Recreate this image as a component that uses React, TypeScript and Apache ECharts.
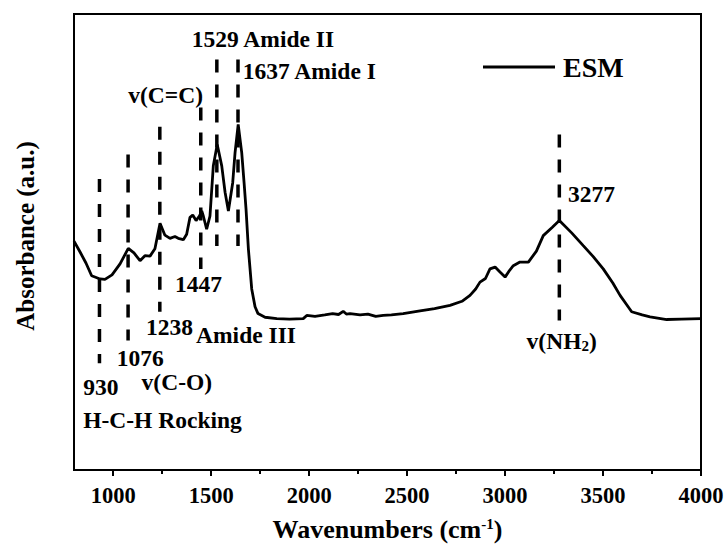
import React, { useEffect, useRef } from "react";
import * as echarts from "echarts";

// FTIR spectrum of ESM: [wavenumber (cm-1), absorbance (a.u.)]
const wavenumbers = [
  800, 831, 861, 890, 933, 958, 994, 1035, 1077, 1106, 1137, 1162, 1188, 1213, 1239,
  1264, 1290, 1315, 1332, 1358, 1375, 1392, 1406, 1423, 1440, 1452, 1460, 1477, 1494,
  1511, 1531, 1554, 1571, 1588, 1610, 1622, 1638, 1656, 1668, 1678, 1690, 1707, 1724,
  1739, 1775, 1835, 1900, 1970, 1988, 2030, 2080, 2120, 2150, 2174, 2190, 2209, 2260,
  2300, 2340, 2378, 2420, 2480, 2566, 2640, 2719, 2780, 2821, 2850, 2872, 2900, 2923,
  2949, 2974, 3000, 3020, 3042, 3076, 3119, 3160, 3195, 3240, 3277, 3340, 3399, 3450,
  3501, 3550, 3587, 3620, 3646, 3700, 3740, 3825, 3900, 4000,
];
const absorbance = [
  50.2, 47.8, 45.4, 42.6, 41.9, 41.8, 42.8, 45.2, 48.6, 47.6, 45.9, 47.0, 46.9, 48.5, 54.1,
  51.5, 50.8, 51.2, 50.8, 50.5, 51.7, 55.4, 55.9, 54.7, 55.7, 56.8, 55.7, 52.8, 55.7,
  66.7, 71.4, 66.7, 60.9, 56.8, 63.0, 69.6, 75.8, 69.6, 63.0, 57.2, 48.5, 39.7, 35.8,
  34.3, 33.5, 33.2, 33.1, 33.2, 33.9, 33.7, 34.0, 34.3, 34.1, 34.8, 34.2, 34.3, 34.0,
  34.2, 33.7, 33.9, 34.0, 34.3, 34.9, 35.4, 36.1, 37.0, 38.3, 39.7, 41.2, 42.0, 44.1,
  44.5, 43.4, 42.3, 43.6, 44.8, 45.6, 45.6, 48.0, 51.4, 53.2, 54.7, 52.0, 49.2, 46.8,
  44.1, 41.0, 38.3, 36.3, 34.7, 34.0, 33.6, 33.0, 33.1, 33.2,
];

// Band markers: wavenumber, top and bottom of the dashed guide (absorbance units)
const markerWavenumbers = [930, 1076, 1238, 1447, 1529, 1637, 3277];
const markerTops = [63.8, 69.2, 75.3, 79.5, 90.0, 90.0, 73.6];
const markerBottoms = [23.4, 28.4, 34.7, 44.1, 49.1, 49.1, 32.8];

// Band assignments: anchor wavenumber, anchor absorbance, text
const labelWavenumbers = [1401, 1661, 1077, 1315, 1167, 1423, 1018, 847, 1145, 847, 3321, 3110];
const labelAbsorbance = [94.5, 87.4, 82.3, 40.8, 31.4, 29.5, 24.5, 18.3, 19.4, 11.0, 60.5, 28.2];
const labelTexts = [
  "1529 Amide II",
  "1637 Amide I",
  "v(C=C)",
  "1447",
  "1238",
  "Amide III",
  "1076",
  "930",
  "v(C-O)",
  "H-C-H Rocking",
  "3277",
  "{a|v(NH}{s|2}{a|)}",
];

const majorTicks = [1000, 1500, 2000, 2500, 3000, 3500, 4000];
const minorTicks = [1250, 1750, 2250, 2750, 3250, 3750];

const FONT = '"Liberation Serif", "Times New Roman", serif';

export default function App() {
  const ref = useRef<HTMLDivElement>(null);

  useEffect(() => {
    if (!ref.current) return;
    const chart = echarts.init(ref.current, undefined, { renderer: "svg" });

    const spectrum = wavenumbers.map((w, i) => [w, absorbance[i]]);

    const markerSeries = markerWavenumbers.map((w, i) => ({
      type: "line",
      name: "marker" + w,
      data: [
        [w, markerTops[i]],
        [w, markerBottoms[i]],
      ],
      symbol: "none",
      silent: true,
      z: 1,
      lineStyle: { color: "#000", width: 3.5, type: [13, 12] },
    }));

    const labelData = labelWavenumbers.map((w, i) => ({
      value: [w, labelAbsorbance[i]],
      label: { formatter: labelTexts[i] },
    }));

    chart.setOption({
      animation: false,
      backgroundColor: "#fff",
      grid: {
        left: 74,
        right: 27,
        top: 14,
        bottom: 75,
        show: true,
        borderColor: "#000",
        borderWidth: 2,
        containLabel: false,
      },
      legend: {
        data: [{ name: "ESM", icon: "rect" }],
        left: 483,
        top: 53,
        padding: 0,
        itemWidth: 72,
        itemHeight: 3,
        textStyle: {
          fontFamily: FONT,
          fontWeight: "bold",
          fontSize: 28,
          color: "#000",
          padding: [0, 0, 0, 3],
        },
      },
      xAxis: [
        {
          type: "value",
          min: 800,
          max: 4000,
          position: "bottom",
          name: "{a|Wavenumbers (cm}{s|-1}{a|)}",
          nameLocation: "middle",
          nameGap: 46,
          nameTextStyle: {
            rich: {
              a: { fontFamily: FONT, fontWeight: "bold", fontSize: 26, color: "#000" },
              s: {
                fontFamily: FONT,
                fontWeight: "bold",
                fontSize: 15,
                color: "#000",
                verticalAlign: "top",
                padding: [0, 0, 10, 0],
              },
            },
          },
          axisLine: { show: true, onZero: false, lineStyle: { color: "#000", width: 2 } },
          axisTick: {
            show: true,
            inside: false,
            length: 6,
            customValues: majorTicks,
            lineStyle: { color: "#000", width: 2 },
          },
          axisLabel: {
            show: true,
            customValues: majorTicks,
            formatter: (v: number) => String(v),
            margin: 14,
            fontFamily: FONT,
            fontWeight: "bold",
            fontSize: 22.5,
            color: "#000",
          },
          splitLine: { show: false },
        },
        {
          type: "value",
          min: 800,
          max: 4000,
          position: "bottom",
          axisLine: { show: false },
          axisTick: {
            show: true,
            inside: false,
            length: 4,
            customValues: minorTicks,
            lineStyle: { color: "#000", width: 2 },
          },
          axisLabel: { show: false },
          splitLine: { show: false },
        },
      ],
      yAxis: {
        type: "value",
        min: 0,
        max: 100,
        name: "Absorbance (a.u.)",
        nameLocation: "middle",
        nameGap: 36,
        nameTextStyle: {
          fontFamily: FONT,
          fontWeight: "bold",
          fontSize: 25,
          color: "#000",
          padding: [0, 0, 0, 12],
        },
        axisLine: { show: true, lineStyle: { color: "#000", width: 2 } },
        axisTick: { show: false },
        axisLabel: { show: false },
        splitLine: { show: false },
      },
      series: [
        ...markerSeries,
        {
          type: "line",
          name: "ESM",
          data: spectrum,
          symbol: "none",
          smooth: false,
          z: 3,
          lineStyle: { color: "#000", width: 2.8 },
          itemStyle: { color: "#000" },
        },
        {
          type: "scatter",
          name: "labels",
          data: labelData,
          symbolSize: 0,
          silent: true,
          z: 4,
          itemStyle: { color: "#000", opacity: 1 },
          label: {
            show: true,
            position: "right",
            distance: 0,
            align: "left",
            verticalAlign: "middle",
            fontFamily: FONT,
            fontWeight: "bold",
            fontSize: 23.5,
            color: "#000",
            textBorderWidth: 0,
            rich: {
              a: { fontFamily: FONT, fontWeight: "bold", fontSize: 23.5, color: "#000" },
              s: {
                fontFamily: FONT,
                fontWeight: "bold",
                fontSize: 15,
                color: "#000",
                verticalAlign: "bottom",
                padding: [10, 0, 0, 0],
              },
            },
          },
        },
      ],
    });

    return () => chart.dispose();
  }, []);

  return (
    <div
      ref={ref}
      style={{ position: "fixed", left: 0, top: 0, width: 728, height: 547 }}
    />
  );
}
